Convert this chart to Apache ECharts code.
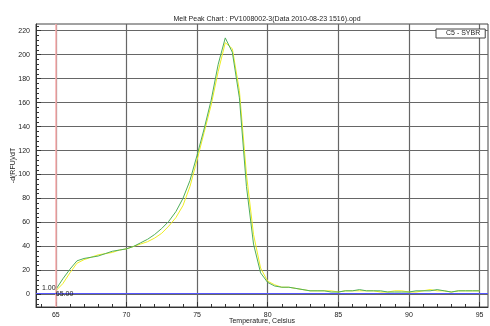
<!DOCTYPE html>
<html><head><meta charset="utf-8">
<script src="https://cdn.jsdelivr.net/npm/echarts@6/dist/echarts.min.js"></script>
<style>html,body{margin:0;padding:0;background:#fff}#c{width:490px;height:326px}</style>
</head><body><div id="c"></div><script>
const titleText = 'Melt Peak Chart : PV1008002-3(Data 2010-08-23 1516).opd';
const seriesName = 'C5 - SYBR';
const temps = [65,65.5,66,66.5,67,67.5,68,68.5,69,69.5,70,70.5,71,71.5,72,72.5,73,73.5,74,74.5,75,75.5,76,76.5,77,77.5,78,78.5,79,79.5,80,80.5,81,81.5,82,82.5,83,83.5,84,84.5,85,85.5,86,86.5,87,87.5,88,88.5,89,89.5,90,90.5,91,91.5,92,92.5,93,93.5,94,94.5,95];
const greenVals = [4,13,21,28,30,31,32,34,36,37,38,40,43,46,50,55,61,69,80,95,116,138,162,192,214,202,164,90,42,18,10,7,6,6,5,4,3,3,3,2,2,3,3,4,3,3,3,2,2,2,2,3,3,3,4,3,2,3,3,3,3];
const yellowVals = [3,9,18,26,29,31,33,34,35,37,38,40,42,44,47,51,57,64,74,90,112,135,158,186,210,205,170,100,50,22,11,8,6,6,5,4,3,3,3,3,2,3,3,3,3,3,2,2,3,3,2,2,3,4,3,3,2,3,3,3,3];
const xMajor = [65,70,75,80,85,90,95];
const yMajor = [0,20,40,60,80,100,120,140,160,180,200,220];
const threshold = 1;
const markerTemp = 65;
const xRange = [63.6, 95.6];
const yRange = [-10.5, 225.6];
const xMinor = [];
for (let v = 64; v <= 95; v += 1) if (v % 5 !== 0) xMinor.push(v);
const yMinor = [];
for (let v = -8; v <= 224; v += 4) if (v % 20 !== 0) yMinor.push(v);

const font = 'Liberation Sans';
const txt = {fontFamily: font, fontSize: 7, color: '#222'};
const chart = echarts.init(document.getElementById('c'), null, {renderer: 'canvas'});
chart.setOption({
  animation: false,
  backgroundColor: '#fff',
  title: {text: titleText, left: 262, top: 11, textAlign: 'center',
    textStyle: {fontFamily: font, fontSize: 7, fontWeight: 'normal', color: '#222'}},
  legend: {data: [seriesName], left: 436, top: 29, itemWidth: 0, itemHeight: 0, icon: 'none',
    padding: [1, 5], borderColor: '#444', borderWidth: 1, backgroundColor: '#fff',
    textStyle: {fontFamily: font, fontSize: 7, color: '#222'}},
  grid: {left: 36, right: 2, top: 24, bottom: 19, show: true, borderColor: '#444', borderWidth: 1,
    containLabel: false, outerBoundsMode: 'none'},
  xAxis: [
    {type: 'value', min: xRange[0], max: xRange[1], position: 'bottom',
     axisLine: {show: true, onZero: false, lineStyle: {color: '#333'}},
     axisTick: {show: true, inside: true, length: 5, customValues: xMajor, lineStyle: {color: '#333'}},
     axisLabel: {customValues: xMajor, margin: 5, ...txt},
     splitLine: {show: true, lineStyle: {color: '#666', width: 1.2}},
     name: 'Temperature, Celsius', nameLocation: 'middle', nameGap: 11, nameMoveOverlap: false, nameTextStyle: txt},
    {type: 'value', min: xRange[0], max: xRange[1], position: 'bottom',
     axisLine: {show: false, onZero: false},
     axisTick: {show: true, inside: true, length: 3, customValues: xMinor, lineStyle: {color: '#333'}},
     axisLabel: {show: false}, splitLine: {show: false}}
  ],
  yAxis: [
    {type: 'value', min: yRange[0], max: yRange[1], position: 'left',
     axisLine: {show: true, onZero: false, lineStyle: {color: '#333'}},
     axisTick: {show: true, inside: true, length: 5, customValues: yMajor, lineStyle: {color: '#333'}},
     axisLabel: {customValues: yMajor, margin: 6, ...txt},
     splitLine: {show: true, lineStyle: {color: '#666', width: 1.2}},
     name: '-d(RFU)/dT', nameLocation: 'middle', nameGap: 19, nameRotate: 90, nameMoveOverlap: false, nameTextStyle: txt},
    {type: 'value', min: yRange[0], max: yRange[1], position: 'left',
     axisLine: {show: false, onZero: false},
     axisTick: {show: true, inside: true, length: 3, customValues: yMinor, lineStyle: {color: '#333'}},
     axisLabel: {show: false}, splitLine: {show: false}}
  ],
  series: [
    {name: seriesName, type: 'line', data: temps.map((t, i) => [t, yellowVals[i]]),
     symbol: 'none', lineStyle: {color: '#eeee22', width: 1}, itemStyle: {color: '#eeee22'}, z: 3},
    {name: seriesName, type: 'line', data: temps.map((t, i) => [t, greenVals[i]]),
     symbol: 'none', lineStyle: {color: '#4fae5a', width: 1}, itemStyle: {color: '#4fae5a'}, z: 4,
     markLine: {silent: true, symbol: ['none', 'none'], animation: false,
       data: [
         {xAxis: markerTemp, lineStyle: {color: '#ffb0b0', width: 1.5, type: 'solid'}, label: {show: false}},
         {yAxis: threshold, lineStyle: {color: '#5555ff', width: 1.2, type: 'solid'},
          label: {show: true, formatter: threshold.toFixed(2), position: 'insideStartTop', distance: [6, 2], ...txt}}
       ]},
     markPoint: {silent: true, symbol: 'circle', symbolSize: 0,
       data: [{coord: [markerTemp, threshold],
         label: {show: true, formatter: markerTemp.toFixed(2), position: 'right', distance: 0, offset: [0, 1], ...txt}}]}}
  ]
});
</script></body></html>
